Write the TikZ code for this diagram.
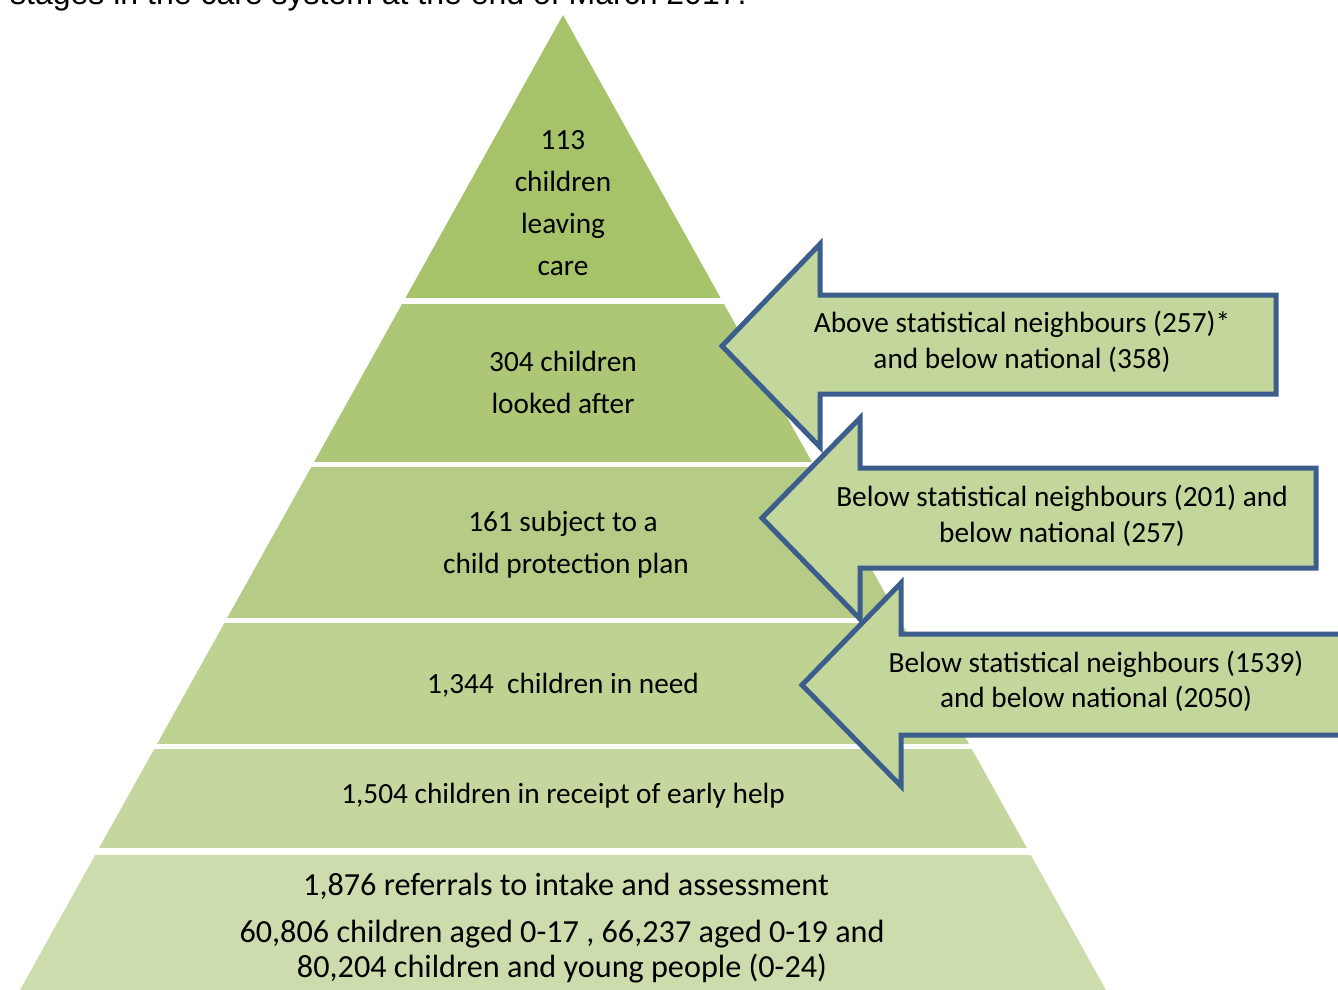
\documentclass[tikz,border=0pt]{standalone}
\usepackage{fontspec}
\setmainfont{Carlito}
\newfontfamily\capfont{Liberation Sans}
\definecolor{tierA}{RGB}{166,195,106}
\definecolor{tierB}{RGB}{173,199,118}
\definecolor{tierC}{RGB}{182,204,134}
\definecolor{tierD}{RGB}{190,210,146}
\definecolor{tierE}{RGB}{197,215,158}
\definecolor{tierF}{RGB}{205,220,172}
\definecolor{arrowfill}{RGB}{195,214,155}
\definecolor{arrowblue}{RGB}{59,94,140}
\begin{document}
\begin{tikzpicture}[x=1pt,y=-1pt,
  lbl/.style={anchor=base, inner sep=0pt, font=\fontsize{29.3}{35}\selectfont},
  biglbl/.style={anchor=base, inner sep=0pt, font=\fontsize{32.2}{39}\selectfont},
  callout/.style={draw=arrowblue, fill=arrowfill, line width=5pt, line join=miter}]
\useasboundingbox (0,0) rectangle (1338,990);
\fill[white] (0,0) rectangle (1338,990);

% caption line above the chart
\node[anchor=base west, inner sep=0pt, font=\capfont\fontsize{32}{38}\selectfont]
  (caption) at (10,5) {stages in the care system at the end of March 2017.};

% pyramid: one triangle cut into six bands
\begin{scope}
  \clip (563,15) -- (1106,990) -- (20,990) -- cycle;
  \fill[tierA] (0,0)   rectangle (1338,298);
  \fill[tierB] (0,304) rectangle (1338,462);
  \fill[tierC] (0,467) rectangle (1338,618);
  \fill[tierD] (0,623) rectangle (1338,744);
  \fill[tierE] (0,749) rectangle (1338,848);
  \fill[tierF] (0,855) rectangle (1338,995);
\end{scope}

% band labels
\node[lbl] (t1a) at (563,149) {113};
\node[lbl] (t1b) at (563,191) {children};
\node[lbl] (t1c) at (563,233) {leaving};
\node[lbl] (t1d) at (563,275) {care};
\node[lbl] (t2a) at (563,371) {304 children};
\node[lbl] (t2b) at (563,413) {looked after};
\node[lbl] (t3a) at (563,531) {161 subject to a};
\node[lbl] (t3b) at (566,573) {child protection plan};
\node[lbl] (t4)  at (563,693) {1,344\ \ children in need};
\node[lbl] (t5)  at (563,803) {1,504 children in receipt of early help};
\node[biglbl] (t6a) at (566,895) {1,876 referrals to intake and assessment};
\node[biglbl] (t6b) at (562,942) {60,806 children aged 0-17 , 66,237 aged 0-19 and};
\node[biglbl] (t6c) at (562,977) {80,204 children and young people (0-24)};

% comparison callouts
\draw[callout] (722,346) -- (820,244) -- (820,295) -- (1276,295) -- (1276,394)
  -- (820,394) -- (820,447) -- cycle;
\node[lbl] (c1a) at (1022,332) {Above statistical neighbours (257)*};
\node[lbl] (c1b) at (1022,368) {and below national (358)};

\draw[callout] (762,518) -- (860,418) -- (860,468) -- (1316,468) -- (1316,568)
  -- (860,568) -- (860,619) -- cycle;
\node[lbl] (c2a) at (1062,506) {Below statistical neighbours (201) and};
\node[lbl] (c2b) at (1062,542) {below national (257)};

\draw[callout] (802,685) -- (901,583) -- (901,634) -- (1380,634) -- (1380,735)
  -- (901,735) -- (901,786) -- cycle;
\node[lbl] (c3a) at (1096,672) {Below statistical neighbours (1539)};
\node[lbl] (c3b) at (1096,707) {and below national (2050)};
\end{tikzpicture}
\end{document}
